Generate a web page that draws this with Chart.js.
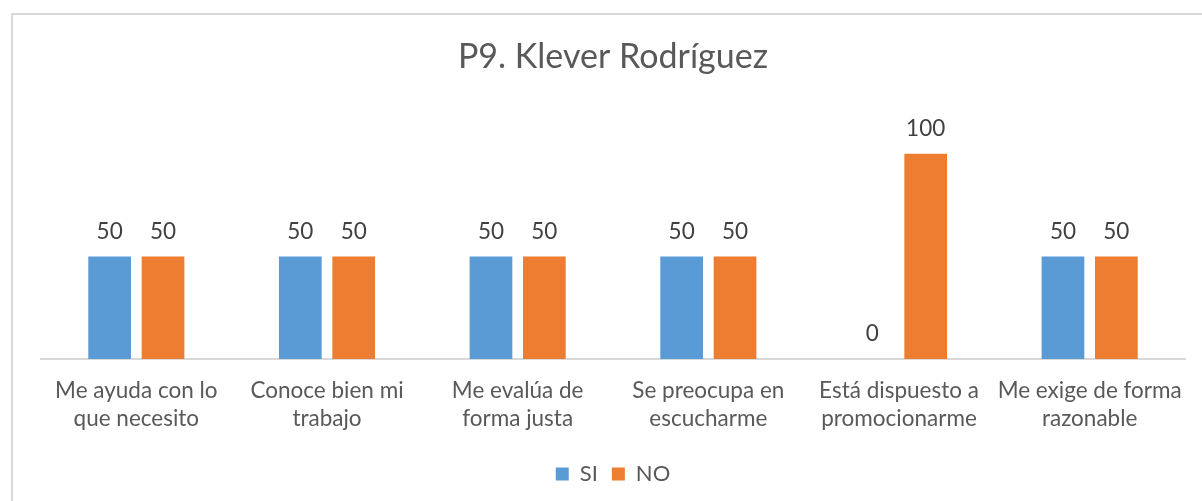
<!DOCTYPE html>
<html>
<head>
<meta charset="utf-8">
<script src="https://cdn.jsdelivr.net/npm/chart.js@4/dist/chart.umd.min.js"></script>
<style>
  html, body { margin: 0; padding: 0; background: #fff; overflow: hidden; }
  #frame { position: absolute; left: 11px; top: 13px; width: 1400px; height: 700px; border: 2px solid #d9d9d9; box-sizing: border-box; }
  #wrap { position: absolute; left: 0; top: 0; width: 1202px; height: 501px; }
</style>
</head>
<body>
<div id="frame"></div>
<div id="wrap"><canvas id="chart"></canvas></div>
<script>
const categories = [
  ['Me ayuda con lo', 'que necesito'],
  ['Conoce bien mi', 'trabajo'],
  ['Me evalúa de', 'forma justa'],
  ['Se preocupa en', 'escucharme'],
  ['Está dispuesto a', 'promocionarme'],
  ['Me exige de forma', 'razonable']
]
const siValues = [50, 50, 50, 50, 0, 50]
const noValues = [50, 50, 50, 50, 100, 50]

const FONT = 'Lato, "Open Sans", sans-serif'

// draws the number over each bar
const valueLabels = {
  id: 'valueLabels',
  afterDatasetsDraw(chart) {
    const ctx = chart.ctx
    ctx.save()
    ctx.font = '22.5px ' + FONT
    ctx.fillStyle = '#404040'
    ctx.textAlign = 'center'
    ctx.textBaseline = 'middle'
    chart.data.datasets.forEach((ds, i) => {
      chart.getDatasetMeta(i).data.forEach((bar, j) => {
        ctx.fillText(ds.data[j], bar.x, bar.y - 25)
      })
    })
    ctx.restore()
  }
}

const chart = new Chart(document.getElementById('chart'), {
  type: 'bar',
  data: {
    labels: categories,
    datasets: [{
      label: 'SI',
      data: siValues,
      backgroundColor: '#5B9BD5',
      barPercentage: 0.8,
      categoryPercentage: 0.56
    }, {
      label: 'NO',
      data: noValues,
      backgroundColor: '#ED7D31',
      barPercentage: 0.8,
      categoryPercentage: 0.56
    }]
  },
  plugins: [valueLabels],
  options: {
    responsive: true,
    maintainAspectRatio: false,
    animation: false,
    layout: { padding: { left: 41, right: 17, top: 0, bottom: 6 } },
    plugins: {
      title: {
        display: true,
        text: 'P9. Klever Rodríguez',
        color: '#595959',
        font: { family: FONT, size: 34, weight: 'normal' },
        padding: { top: 37, bottom: 35 }
      },
      legend: {
        position: 'bottom',
        labels: {
          color: '#595959',
          font: { family: FONT, size: 22 },
          boxWidth: 13,
          boxHeight: 13,
          padding: 14
        }
      },
      tooltip: { enabled: false }
    },
    scales: {
      x: {
        grid: { display: false },
        border: { display: true, color: '#d9d9d9', width: 2 },
        ticks: {
          color: '#595959',
          font: { family: FONT, size: 22.5, lineHeight: 1.28 },
          maxRotation: 0,
          autoSkip: false,
          padding: 9
        },
        afterFit(scale) { scale.height = 90 }
      },
      y: {
        display: false,
        min: 0,
        max: 120
      }
    }
  }
})
</script>
</body>
</html>
